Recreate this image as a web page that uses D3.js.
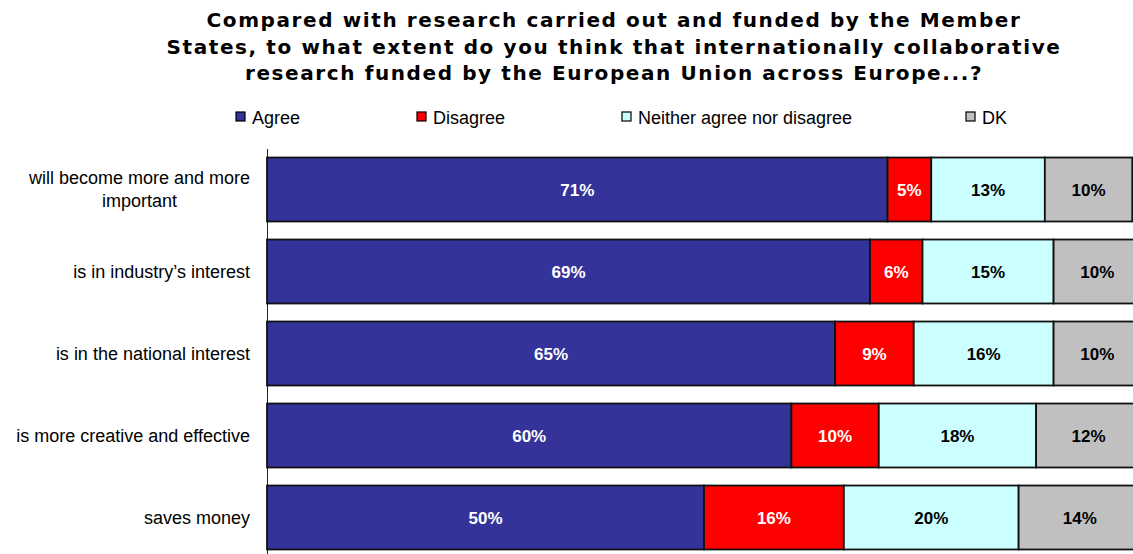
<!DOCTYPE html>
<html>
<head>
<meta charset="utf-8">
<script src="https://cdn.jsdelivr.net/npm/d3@7"></script>
<style>
  html, body { margin: 0; padding: 0; background: #fff; }
  svg { display: block; }
</style>
</head>
<body>
<svg id="chart" width="1133" height="554"></svg>
<script>
const titleLines = [
  "Compared with research carried out and funded by the Member",
  "States, to what extent do you think that internationally collaborative",
  "research funded by the European Union across Europe...?"
];
const categories = [
  "will become more and more important",
  "is in industry\u2019s interest",
  "is in the national interest",
  "is more creative and effective",
  "saves money"
];
const seriesNames = ["Agree", "Disagree", "Neither agree nor disagree", "DK"];
const agree    = [71, 69, 65, 60, 50];
const disagree = [5, 6, 9, 10, 16];
const neither  = [13, 15, 16, 18, 20];
const dk       = [10, 10, 10, 12, 14];
const seriesValues = [agree, disagree, neither, dk];

const colors = ["#333399", "#FF0000", "#CCFFFF", "#C0C0C0"];
const labelColors = ["#FFFFFF", "#FFFFFF", "#000000", "#000000"];

const svg = d3.select("#chart");

// Title
svg.append("g").selectAll("text").data(titleLines).join("text")
  .attr("x", 614)
  .attr("y", (d, i) => 27 + i * 26.5)
  .attr("text-anchor", "middle")
  .style("font-family", "'DejaVu Sans', Verdana, sans-serif")
  .style("font-weight", "bold")
  .style("font-size", "20px")
  .style("letter-spacing", "1.6px")
  .attr("fill", "#000")
  .text(d => d);

// Legend
const legendX = [236, 417, 622, 966];
const lg = svg.append("g").selectAll("g").data(seriesNames).join("g")
  .attr("transform", (d, i) => `translate(${legendX[i]},112)`);
lg.append("rect").attr("width", 9).attr("height", 9)
  .attr("fill", (d, i) => colors[i]).attr("stroke", "#000").attr("stroke-width", 1.2);
lg.append("text").attr("x", 16).attr("y", 11.5)
  .style("font-family", "'Liberation Sans', Arial, sans-serif")
  .style("font-size", "18px")
  .attr("fill", "#000")
  .text(d => d);

// Scales
const x = d3.scaleLinear().domain([0, 100]).range([267, 1141]);
const y = d3.scaleBand().domain(categories).range([148.5, 558.5])
  .paddingInner(0.22).paddingOuter(0.11);

// Axis line (y axis without ticks)
const yAxis = d3.axisLeft(y).tickSize(0).tickFormat("");
svg.append("g").attr("transform", "translate(267,0)").call(yAxis)
  .call(g => g.select(".domain").attr("stroke", "#222").attr("stroke-width", 1)
    .attr("d", "M0.5,149V554"));

// Stacked data
const rows = categories.map((c, i) => {
  let acc = 0;
  return seriesValues.map((s, k) => {
    const seg = { cat: c, k, v: s[i], x0: acc, x1: acc + s[i] };
    acc += s[i];
    return seg;
  });
}).flat();

const bars = svg.append("g");
bars.selectAll("rect").data(rows).join("rect")
  .attr("x", d => x(d.x0))
  .attr("y", d => y(d.cat))
  .attr("width", d => x(d.x1) - x(d.x0))
  .attr("height", y.bandwidth())
  .attr("fill", d => colors[d.k])
  .attr("stroke", "#111")
  .attr("stroke-width", 1.8);

bars.selectAll("text").data(rows).join("text")
  .attr("x", d => (x(d.x0) + x(d.x1)) / 2)
  .attr("y", d => y(d.cat) + y.bandwidth() / 2)
  .attr("dy", "0.36em")
  .attr("text-anchor", "middle")
  .style("font-family", "'Liberation Sans', Arial, sans-serif")
  .style("font-weight", "bold")
  .style("font-size", "17px")
  .attr("fill", d => labelColors[d.k])
  .text(d => d.v + "%");

// Category labels
const wrapMap = { "will become more and more important": ["will become more and more", "important"] };
categories.forEach(c => {
  const lines = wrapMap[c] || [c];
  const cy = y(c) + y.bandwidth() / 2;
  const g = svg.append("g");
  const texts = g.selectAll("text").data(lines).join("text")
    .attr("y", (d, i) => cy + (i - (lines.length - 1) / 2) * 23)
    .attr("dy", "0.35em")
    .style("font-family", "'Liberation Sans', Arial, sans-serif")
    .style("font-size", "18px")
    .attr("fill", "#000")
    .text(d => d);
  if (lines.length > 1) {
    let maxW = 0;
    texts.each(function() { maxW = Math.max(maxW, this.getComputedTextLength()); });
    texts.attr("text-anchor", "middle").attr("x", 250 - maxW / 2);
  } else {
    texts.attr("text-anchor", "end").attr("x", 250);
  }
});
</script>
</body>
</html>
